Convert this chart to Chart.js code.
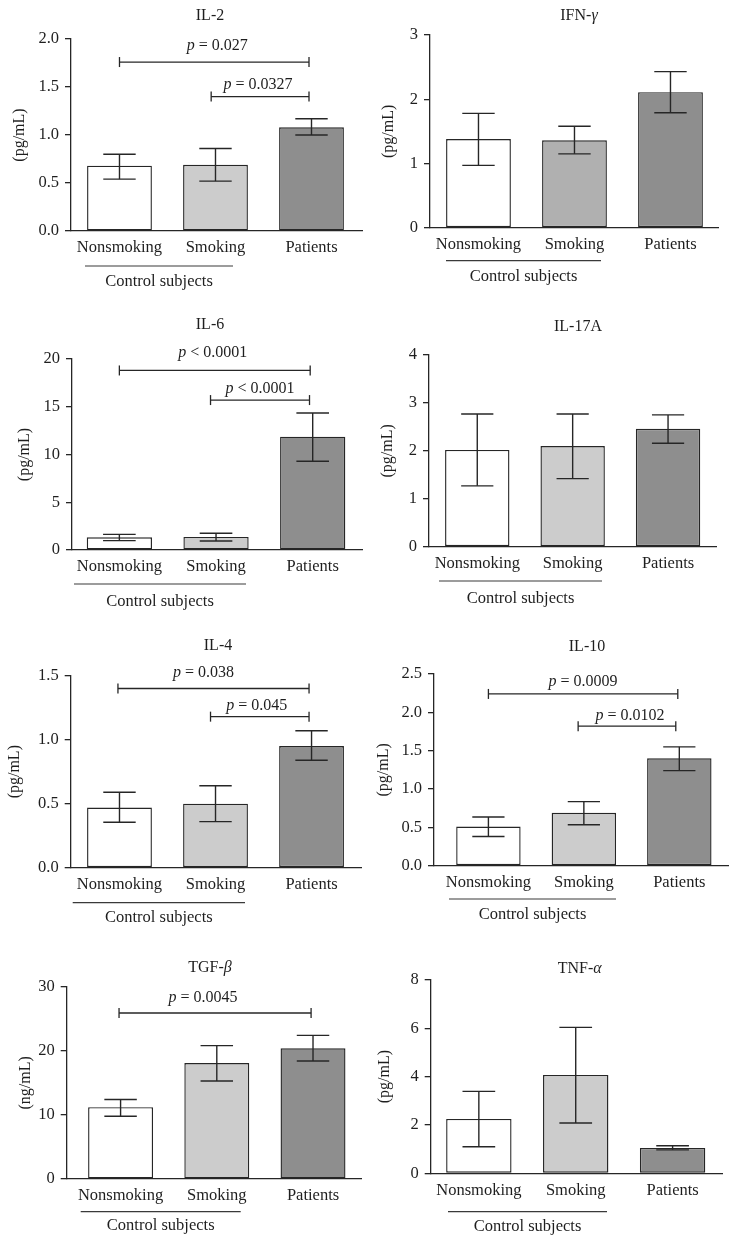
<!DOCTYPE html>
<html>
<head>
<meta charset="utf-8">
<script src="https://cdn.jsdelivr.net/npm/chart.js@4.4.1/dist/chart.umd.min.js"></script>
<style>
  html, body { margin: 0; padding: 0; background: #fff; }
  #page { position: relative; width: 738px; height: 1249px; }
  .cell { position: absolute; }
</style>
</head>
<body>
<div id="page"></div>
<script>
const categories = ['Nonsmoking', 'Smoking', 'Patients'];

// bar heights and error bar ends
const il2Mean = [0.68, 0.69, 1.08];
const il2Low = [0.54, 0.52, 1.00];
const il2High = [0.80, 0.86, 1.17];

const ifnMean = [1.38, 1.36, 2.11];
const ifnLow = [0.97, 1.15, 1.79];
const ifnHigh = [1.78, 1.58, 2.43];

const il6Mean = [1.33, 1.37, 11.87];
const il6Low = [0.98, 0.94, 9.29];
const il6High = [1.64, 1.75, 14.34];

const il17Mean = [2.02, 2.10, 2.46];
const il17Low = [1.27, 1.42, 2.16];
const il17High = [2.77, 2.77, 2.75];

const il4Mean = [0.47, 0.50, 0.95];
const il4Low = [0.355, 0.36, 0.84];
const il4High = [0.59, 0.64, 1.07];

const il10Mean = [0.51, 0.69, 1.40];
const il10Low = [0.38, 0.535, 1.24];
const il10High = [0.635, 0.835, 1.55];

const tgfMean = [11.2, 18.1, 20.4];
const tgfLow = [9.8, 15.3, 18.4];
const tgfHigh = [12.4, 20.8, 22.4];

const tnfMean = [2.25, 4.07, 1.05];
const tnfLow = [1.10, 2.08, 0.97];
const tnfHigh = [3.39, 6.04, 1.14];

const INK = '#262626';
const TEXT = '#1e1e1e';
const SERIF = '"Liberation Serif", "Times New Roman", serif';
const FILLS = ['#ffffff', '#cccccc', '#8e8e8e'];

// panel layout (page pixels) + annotations
const panels = [
  { title: [['IL-2', false]], unit: '(pg/mL)', mean: il2Mean, low: il2Low, high: il2High,
    yMax: 2, step: 0.5, dec: 1, fills: FILLS,
    box: { x: 0, y: 0, w: 369, h: 300, axisL: 71, axisR: 362, top: 39, zero: 231, yTitleX: 19.5,
      xMin: -0.505, xMax: 2.526, titleX: 210, titleY: 16, ulX1: 85, ulX2: 233, ulY: 266, ctrlY: 282 },
    brackets: [
      { from: 0, to: 1.974, y: 1.76, text: ' = 0.027', gap: 12, dx: 3 },
      { from: 0.955, to: 1.974, y: 1.40, text: ' = 0.0327', gap: 8, dx: -2 }
    ] },
  { title: [['IFN-', false], ['γ', true]], unit: '(pg/mL)', mean: ifnMean, low: ifnLow, high: ifnHigh,
    yMax: 3, step: 1, dec: 0, fills: ['#ffffff', '#b0b0b0', '#8e8e8e'],
    box: { x: 369, y: 0, w: 369, h: 300, axisL: 430, axisR: 718, top: 35, zero: 227.7, yTitleX: 388.5,
      xMin: -0.505, xMax: 2.495, titleX: 579, titleY: 16, ulX1: 446, ulX2: 601, ulY: 260.7, ctrlY: 277 },
    brackets: [] },
  { title: [['IL-6', false]], unit: '(pg/mL)', mean: il6Mean, low: il6Low, high: il6High,
    yMax: 20, step: 5, dec: 0, fills: FILLS,
    box: { x: 0, y: 300, w: 369, h: 320, axisL: 72, axisR: 362, top: 359, zero: 550, yTitleX: 25,
      xMin: -0.49, xMax: 2.51, titleX: 210, titleY: 325, ulX1: 74, ulX2: 246, ulY: 584, ctrlY: 602 },
    brackets: [
      { from: 0, to: 1.974, y: 18.8, text: ' < 0.0001', gap: 13.5, dx: -2 },
      { from: 0.943, to: 1.967, y: 15.7, text: ' < 0.0001', gap: 7, dx: 0 }
    ] },
  { title: [['IL-17A', false]], unit: '(pg/mL)', mean: il17Mean, low: il17Low, high: il17High,
    yMax: 4, step: 1, dec: 0, fills: FILLS,
    box: { x: 369, y: 300, w: 369, h: 320, axisL: 429, axisR: 716.7, top: 355, zero: 546.7, yTitleX: 387.5,
      xMin: -0.506, xMax: 2.51, titleX: 578, titleY: 326.7, ulX1: 439, ulX2: 602, ulY: 581, ctrlY: 599 },
    brackets: [] },
  { title: [['IL-4', false]], unit: '(pg/mL)', mean: il4Mean, low: il4Low, high: il4High,
    yMax: 1.5, step: 0.5, dec: 1, fills: FILLS,
    box: { x: 0, y: 620, w: 369, h: 320, axisL: 70.7, axisR: 361, top: 675.7, zero: 867.7, yTitleX: 15,
      xMin: -0.508, xMax: 2.515, titleX: 218, titleY: 646, ulX1: 72.7, ulX2: 245, ulY: 902.7, ctrlY: 917.7 },
    brackets: [
      { from: -0.016, to: 1.974, y: 1.40, text: ' = 0.038', gap: 12, dx: -10 },
      { from: 0.948, to: 1.974, y: 1.18, text: ' = 0.045', gap: 7, dx: -3 }
    ] },
  { title: [['IL-10', false]], unit: '(pg/mL)', mean: il10Mean, low: il10Low, high: il10High,
    yMax: 2.5, step: 0.5, dec: 1, fills: FILLS,
    box: { x: 369, y: 620, w: 369, h: 320, axisL: 434, axisR: 728, top: 674, zero: 865.7, yTitleX: 383.5,
      xMin: -0.57, xMax: 2.51, titleX: 587, titleY: 646.7, ulX1: 449, ulX2: 616, ulY: 899, ctrlY: 915 },
    brackets: [
      { from: 0, to: 1.984, y: 2.24, text: ' = 0.0009', gap: 8, dx: 0 },
      { from: 0.94, to: 1.963, y: 1.82, text: ' = 0.0102', gap: 6, dx: 3 }
    ] },
  { title: [['TGF-', false], ['β', true]], unit: '(ng/mL)', mean: tgfMean, low: tgfLow, high: tgfHigh,
    yMax: 30, step: 10, dec: 0, fills: FILLS,
    box: { x: 0, y: 940, w: 369, h: 309, axisL: 66.7, axisR: 361.7, top: 986.7, zero: 1179, yTitleX: 25.5,
      xMin: -0.56, xMax: 2.506, titleX: 210, titleY: 968, ulX1: 80.7, ulX2: 240.7, ulY: 1211.7, ctrlY: 1226 },
    brackets: [
      { from: -0.016, to: 1.98, y: 25.9, text: ' = 0.0045', gap: 11, dx: -12 }
    ] },
  { title: [['TNF-', false], ['α', true]], unit: '(pg/mL)', mean: tnfMean, low: tnfLow, high: tnfHigh,
    yMax: 8, step: 2, dec: 0, fills: FILLS,
    box: { x: 369, y: 940, w: 369, h: 309, axisL: 430.7, axisR: 722, top: 980, zero: 1173.3, yTitleX: 384.5,
      xMin: -0.497, xMax: 2.51, titleX: 579.7, titleY: 969, ulX1: 448, ulX2: 607, ulY: 1211.7, ctrlY: 1226.7 },
    brackets: [] }
];

function drawRich(ctx, parts, cx, y, size, baseline) {
  const fonts = parts.map(([, it]) => (it ? 'italic ' : '') + size + 'px ' + SERIF);
  let w = 0;
  parts.forEach(([t], k) => { ctx.font = fonts[k]; w += ctx.measureText(t).width; });
  let x = cx - w / 2;
  ctx.textAlign = 'left';
  ctx.textBaseline = baseline;
  ctx.fillStyle = TEXT;
  parts.forEach(([t], k) => {
    ctx.font = fonts[k];
    ctx.fillText(t, x, y);
    x += ctx.measureText(t).width;
  });
}

function line(ctx, x1, y1, x2, y2) {
  ctx.beginPath();
  ctx.moveTo(x1, y1);
  ctx.lineTo(x2, y2);
  ctx.stroke();
}

function makeExtras(p) {
  const b = p.box;
  return {
    id: 'extras',
    afterDatasetsDraw(chart) {
      const ctx = chart.ctx;
      const ys = chart.scales.y;
      const bars = chart.getDatasetMeta(0).data;
      ctx.save();
      ctx.strokeStyle = INK;
      ctx.lineWidth = 1.4;
      bars.forEach((bar, i) => {
        const half = bar.width * 0.25;
        const yh = ys.getPixelForValue(p.high[i]);
        const yl = ys.getPixelForValue(p.low[i]);
        line(ctx, bar.x, yh, bar.x, yl);
        line(ctx, bar.x - half, yh, bar.x + half, yh);
        line(ctx, bar.x - half, yl, bar.x + half, yl);
      });
      ctx.restore();
    },
    afterDraw(chart) {
      const ctx = chart.ctx;
      const xs = chart.scales.x;
      const ys = chart.scales.y;
      ctx.save();
      ctx.strokeStyle = INK;
      ctx.lineWidth = 1.3;
      // significance brackets
      p.brackets.forEach((br) => {
        const x1 = xs.getPixelForValue(br.from);
        const x2 = xs.getPixelForValue(br.to);
        const y = ys.getPixelForValue(br.y);
        line(ctx, x1, y, x2, y);
        line(ctx, x1, y - 5, x1, y + 5);
        line(ctx, x2, y - 5, x2, y + 5);
        drawRich(ctx, [['p', true], [br.text, false]], (x1 + x2) / 2 + br.dx, y - br.gap, 16, 'alphabetic');
      });
      // panel title
      drawRich(ctx, p.title, b.titleX - b.x, b.titleY - b.y, 16, 'middle');
      // control group underline + label
      ctx.strokeStyle = '#3a3a3a';
      ctx.lineWidth = 1.2;
      line(ctx, b.ulX1 - b.x, b.ulY - b.y, b.ulX2 - b.x, b.ulY - b.y);
      drawRich(ctx, [['Control subjects', false]], (b.ulX1 + b.ulX2) / 2 - b.x, b.ctrlY - b.y, 16.5, 'middle');
      ctx.restore();
    }
  };
}

const page = document.getElementById('page');

panels.forEach((p) => {
  const b = p.box;
  const wrap = document.createElement('div');
  wrap.className = 'cell';
  wrap.style.left = b.x + 'px';
  wrap.style.top = b.y + 'px';
  wrap.style.width = b.w + 'px';
  wrap.style.height = b.h + 'px';
  const cv = document.createElement('canvas');
  wrap.appendChild(cv);
  page.appendChild(wrap);

  const padLeft = b.yTitleX - b.x - 9.6;

  new Chart(cv, {
    type: 'bar',
    data: {
      datasets: [{
        data: p.mean.map((v, i) => ({ x: i, y: v })),
        backgroundColor: p.fills,
        borderColor: INK,
        borderWidth: 1.4,
        borderSkipped: false,
        barPercentage: 0.675,
        categoryPercentage: 1
      }]
    },
    options: {
      responsive: true,
      maintainAspectRatio: false,
      animation: false,
      layout: { padding: { left: padLeft, top: b.top - b.y, right: b.x + b.w - b.axisR, bottom: 0 } },
      plugins: { legend: { display: false }, tooltip: { enabled: false } },
      scales: {
        x: {
          type: 'linear',
          offset: false,
          min: b.xMin,
          max: b.xMax,
          grid: { display: false, drawTicks: false, offset: false },
          border: { display: true, color: INK, width: 1.3 },
          afterBuildTicks: (s) => { s.ticks = categories.map((_, i) => ({ value: i })); },
          afterFit: (s) => { s.height = b.y + b.h - b.zero; },
          ticks: {
            autoSkip: false,
            maxRotation: 0,
            padding: 7,
            color: TEXT,
            font: { family: SERIF, size: 16.5 },
            callback: (v) => categories[v] || ''
          }
        },
        y: {
          min: 0,
          max: p.yMax,
          grid: { display: true, drawOnChartArea: false, drawTicks: true, tickLength: 6, color: INK, lineWidth: 1.3 },
          border: { display: true, color: INK, width: 1.3 },
          afterFit: (s) => { s.width = b.axisL - b.x - padLeft; },
          title: { display: true, text: p.unit, color: TEXT, font: { family: SERIF, size: 16 }, padding: 0 },
          ticks: {
            stepSize: p.step,
            padding: 6,
            color: TEXT,
            font: { family: SERIF, size: 16.5 },
            callback: (v) => v.toFixed(p.dec)
          }
        }
      }
    },
    plugins: [makeExtras(p)]
  });
});
</script>
</body>
</html>
